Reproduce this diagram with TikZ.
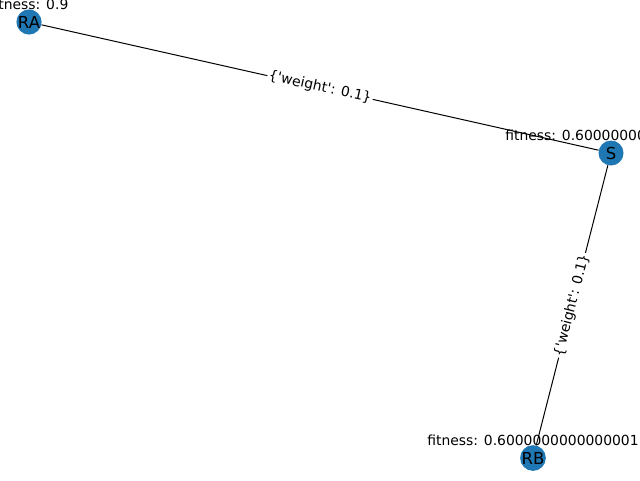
\documentclass[tikz,border=0pt]{standalone}
\usepackage{fontspec}
\newfontfamily\dv{DejaVu Sans}
\definecolor{nodeblue}{HTML}{1F77B4}
\begin{document}
\begin{tikzpicture}[x=1pt,y=-1pt,
  vertex/.style={circle,fill=nodeblue,minimum size=25pt,inner sep=0pt,font=\dv\fontsize{16.5}{16.5}\selectfont},
  fitlabel/.style={font=\dv\fontsize{13.9}{13.9}\selectfont,inner sep=0pt},
  edgelabel/.style={font=\dv\fontsize{13.9}{13.9}\selectfont,fill=white,inner sep=1.5pt,sloped,midway},
  edge/.style={draw=black,line width=1pt}]
\useasboundingbox (0,0) rectangle (640,480);
\clip (0,0) rectangle (640,480);
\node[vertex] (RA) at (29,22) {RA};
\node[vertex] (S) at (611,153) {S};
\node[vertex] (RB) at (533,458) {RB};
\draw[edge] (RA) -- node[edgelabel] (w1) {\{'weight': 0.1\}} (S);
\draw[edge] (S) -- node[edgelabel] (w2) {\{'weight': 0.1\}} (RB);
\node[fitlabel] (fRA) at (29,4) {fitness: 0.9};
\node[fitlabel] (fS) at (611,135) {fitness: 0.6000000000000001};
\node[fitlabel] (fRB) at (533,440) {fitness: 0.6000000000000001};
\end{tikzpicture}
\end{document}
